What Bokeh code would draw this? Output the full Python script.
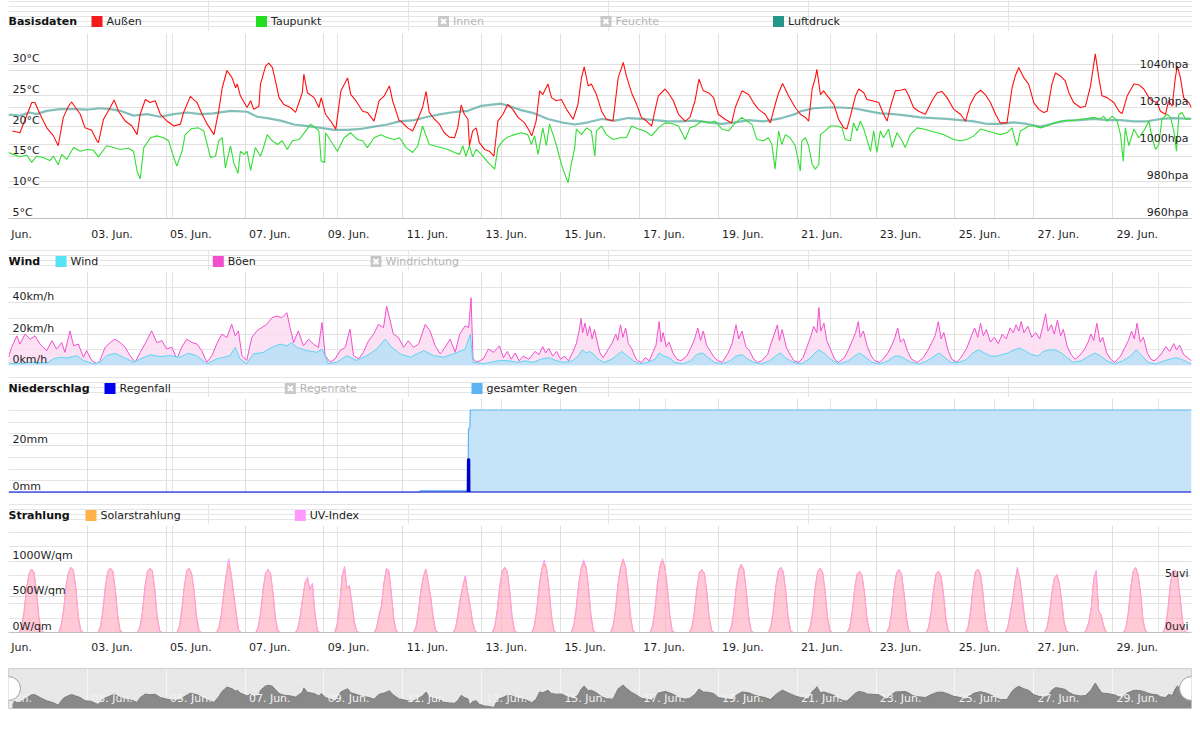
import numpy as np
from bokeh.plotting import figure
from bokeh.layouts import column
from bokeh.models import Range1d, LinearAxis, FixedTicker, Grid
from bokeh.embed import file_html
from bokeh.resources import INLINE
from bokeh.core.properties import value

# ---------------------------------------------------------------- data
# time is given in days since 1 June 00:00
AUSSEN = [(0.10, 19.2), (0.29, 18.9), (0.59, 23.8), (0.67, 23.8), (0.80, 21.9), (0.97, 19.7), (1.14, 18.4), (1.26, 16.8),
          (1.39, 21.4), (1.52, 23.2), (1.60, 23.9), (1.82, 21.9), (1.94, 19.7), (2.11, 19.3), (2.24, 17.6), (2.28, 17.3),
          (2.41, 21.1), (2.58, 23.0), (2.68, 24.2), (2.79, 22.4), (2.96, 20.8), (3.13, 20.0), (3.26, 18.6), (3.34, 21.9),
          (3.47, 24.3), (3.59, 23.8), (3.72, 24.1), (3.85, 21.9), (4.02, 20.8), (4.19, 20.0), (4.36, 20.3), (4.44, 22.2),
          (4.61, 24.8), (4.78, 23.8), (4.91, 21.9), (5.04, 20.3), (5.21, 18.6), (5.33, 22.4), (5.42, 26.2), (5.54, 29.0),
          (5.67, 27.8), (5.76, 26.2), (5.80, 26.8), (5.88, 24.9), (6.05, 23.0), (6.14, 24.1), (6.22, 22.7), (6.35, 23.2),
          (6.39, 26.8), (6.52, 29.7), (6.60, 30.2), (6.69, 29.5), (6.77, 27.3), (6.86, 24.6), (6.98, 23.5), (7.15, 23.0),
          (7.28, 22.2), (7.45, 25.4), (7.49, 28.4), (7.58, 25.4), (7.75, 24.6), (7.87, 23.0), (7.93, 24.6), (8.04, 21.9),
          (8.17, 20.8), (8.30, 19.5), (8.43, 25.7), (8.60, 27.8), (8.68, 25.1), (8.81, 24.1), (8.98, 22.4), (9.10, 22.2),
          (9.27, 20.8), (9.40, 24.1), (9.53, 24.9), (9.66, 26.5), (9.74, 24.1), (9.91, 20.8), (9.95, 20.8), (10.12, 19.7),
          (10.25, 19.2), (10.38, 21.1), (10.50, 23.0), (10.59, 25.6), (10.67, 22.2), (10.80, 21.1), (10.93, 20.3),
          (11.05, 18.9), (11.18, 18.2), (11.31, 18.1), (11.39, 19.7), (11.48, 23.4), (11.56, 21.9), (11.65, 21.1),
          (11.69, 16.8), (11.77, 19.2), (11.86, 19.7), (11.94, 17.3), (12.07, 16.2), (12.20, 15.9), (12.31, 15.1),
          (12.41, 20.8), (12.54, 21.9), (12.66, 23.5), (12.79, 22.7), (12.92, 21.4), (13.09, 20.5), (13.21, 19.2),
          (13.27, 18.4), (13.38, 20.8), (13.47, 25.7), (13.55, 25.1), (13.68, 26.8), (13.77, 24.6), (13.89, 24.1),
          (14.02, 24.3), (14.15, 22.7), (14.32, 21.1), (14.44, 23.5), (14.53, 27.8), (14.60, 29.6), (14.70, 26.5),
          (14.78, 26.8), (14.91, 25.1), (15.04, 22.4), (15.16, 21.1), (15.33, 20.8), (15.46, 27.8), (15.59, 30.3),
          (15.67, 28.1), (15.80, 25.4), (15.93, 23.5), (16.05, 21.4), (16.18, 20.8), (16.31, 20.0), (16.39, 22.4),
          (16.48, 24.9), (16.65, 26.0), (16.73, 25.4), (16.86, 24.1), (16.99, 21.9), (17.16, 20.8), (17.28, 21.4),
          (17.41, 24.1), (17.51, 27.6), (17.62, 25.7), (17.75, 25.4), (17.88, 24.6), (18.00, 21.9), (18.17, 21.1),
          (18.34, 20.5), (18.43, 23.0), (18.60, 25.7), (18.77, 25.1), (18.89, 23.8), (19.02, 22.7), (19.19, 21.9),
          (19.32, 20.5), (19.43, 23.2), (19.53, 25.4), (19.63, 26.9), (19.78, 24.9), (19.95, 23.0), (20.08, 21.9),
          (20.21, 21.4), (20.29, 20.8), (20.38, 26.0), (20.46, 27.8), (20.50, 29.2), (20.59, 25.1), (20.67, 25.7),
          (20.80, 24.6), (20.93, 23.5), (21.05, 21.1), (21.18, 19.7), (21.26, 19.5), (21.35, 21.6), (21.48, 24.9),
          (21.56, 26.0), (21.69, 25.4), (21.77, 24.3), (21.90, 24.1), (22.07, 23.8), (22.19, 21.9), (22.28, 20.8),
          (22.36, 23.0), (22.49, 25.7), (22.62, 25.8), (22.74, 26.0), (22.83, 24.9), (22.95, 23.0), (23.08, 22.4),
          (23.25, 21.9), (23.42, 24.1), (23.55, 25.4), (23.67, 25.6), (23.80, 24.6), (23.97, 22.7), (24.14, 21.9),
          (24.27, 20.8), (24.39, 23.5), (24.52, 25.1), (24.65, 25.8), (24.77, 25.1), (24.90, 23.8), (25.03, 21.9),
          (25.15, 20.5), (25.32, 20.5), (25.45, 26.2), (25.53, 28.1), (25.62, 29.5), (25.75, 27.8), (25.87, 26.8),
          (26.00, 23.8), (26.13, 22.7), (26.25, 22.2), (26.34, 22.4), (26.46, 26.8), (26.55, 28.6), (26.68, 28.1),
          (26.80, 27.3), (26.89, 25.4), (27.01, 23.8), (27.18, 23.0), (27.31, 23.2), (27.44, 26.5), (27.52, 30.0),
          (27.56, 31.7), (27.65, 27.8), (27.73, 24.9), (27.86, 24.6), (28.03, 23.8), (28.16, 22.4), (28.24, 22.0),
          (28.37, 24.9), (28.54, 26.8), (28.66, 26.7), (28.79, 26.0), (28.92, 24.6), (29.00, 24.1), (29.13, 23.8),
          (29.21, 22.4), (29.34, 21.9), (29.42, 24.1), (29.51, 23.2), (29.59, 27.8), (29.64, 29.7), (29.72, 27.8),
          (29.80, 24.6), (29.93, 23.8), (30.00, 23.0)]

TAUPUNKT = [(0.00, 15.7), (0.12, 15.4), (0.29, 15.0), (0.46, 15.3), (0.59, 14.1), (0.71, 15.1), (0.88, 14.9), (1.05, 14.4),
            (1.14, 15.1), (1.26, 13.7), (1.35, 15.4), (1.48, 14.6), (1.65, 16.5), (1.82, 15.9), (1.99, 16.2), (2.15, 16.1),
            (2.28, 15.0), (2.49, 16.8), (2.66, 16.5), (2.83, 16.2), (3.04, 16.4), (3.17, 15.9), (3.26, 12.7), (3.34, 11.4),
            (3.43, 16.5), (3.60, 18.1), (3.76, 18.4), (3.93, 18.1), (4.06, 17.6), (4.19, 14.9), (4.27, 13.5), (4.40, 15.9),
            (4.48, 18.6), (4.65, 19.6), (4.82, 19.7), (4.95, 19.2), (5.04, 17.0), (5.12, 14.9), (5.25, 15.1), (5.33, 17.6),
            (5.42, 18.1), (5.50, 13.2), (5.63, 16.8), (5.71, 14.1), (5.82, 12.3), (5.88, 15.9), (5.97, 15.4), (6.05, 15.9),
            (6.14, 12.8), (6.26, 16.5), (6.39, 15.1), (6.48, 16.8), (6.56, 18.6), (6.69, 17.6), (6.82, 17.0), (6.94, 17.6),
            (7.07, 16.2), (7.20, 17.6), (7.37, 17.8), (7.54, 19.2), (7.66, 20.3), (7.79, 19.7), (7.87, 19.2), (7.93, 14.3),
            (8.02, 14.1), (8.04, 18.9), (8.17, 17.6), (8.34, 15.9), (8.51, 18.1), (8.68, 18.9), (8.85, 17.8), (8.98, 17.6),
            (9.10, 16.5), (9.27, 18.1), (9.44, 18.6), (9.61, 18.1), (9.78, 17.8), (9.91, 18.1), (9.95, 17.8), (10.08, 16.5),
            (10.25, 15.7), (10.38, 16.8), (10.50, 20.0), (10.59, 18.4), (10.67, 17.0), (10.80, 16.8), (10.97, 16.5),
            (11.14, 16.2), (11.31, 15.7), (11.44, 15.4), (11.52, 16.8), (11.60, 15.1), (11.69, 16.8), (11.77, 15.0),
            (11.86, 16.2), (11.99, 15.4), (12.16, 14.1), (12.33, 13.0), (12.41, 16.5), (12.54, 17.6), (12.66, 18.2),
            (12.83, 18.6), (13.00, 18.9), (13.17, 18.6), (13.26, 17.0), (13.34, 18.4), (13.43, 15.4), (13.55, 19.7),
            (13.64, 16.8), (13.72, 20.3), (13.81, 18.6), (13.89, 17.0), (14.02, 13.8), (14.11, 12.2), (14.19, 10.8),
            (14.27, 13.8), (14.36, 16.5), (14.40, 19.5), (14.53, 18.6), (14.66, 19.7), (14.78, 19.2), (14.87, 15.1),
            (14.91, 19.2), (15.04, 20.0), (15.16, 18.6), (15.33, 17.8), (15.50, 18.1), (15.67, 18.1), (15.80, 20.0),
            (15.97, 19.5), (16.14, 19.2), (16.31, 18.4), (16.48, 19.7), (16.65, 20.5), (16.82, 20.4), (16.99, 20.0),
            (17.16, 17.8), (17.28, 19.7), (17.41, 20.0), (17.58, 20.8), (17.75, 20.5), (17.92, 20.8), (18.09, 19.5),
            (18.26, 19.2), (18.43, 20.5), (18.60, 21.4), (18.72, 20.8), (18.85, 20.3), (18.98, 17.8), (19.15, 17.6),
            (19.27, 18.1), (19.36, 17.0), (19.44, 13.0), (19.53, 19.2), (19.61, 17.0), (19.70, 18.6), (19.82, 18.1),
            (19.95, 16.8), (20.08, 12.7), (20.12, 17.6), (20.21, 18.1), (20.29, 16.8), (20.38, 13.8), (20.46, 13.0),
            (20.55, 13.8), (20.59, 18.6), (20.71, 19.2), (20.84, 20.0), (21.01, 20.0), (21.14, 19.7), (21.22, 17.8),
            (21.35, 17.6), (21.43, 20.5), (21.52, 19.2), (21.60, 20.8), (21.69, 19.5), (21.77, 17.8), (21.86, 15.9),
            (21.94, 19.2), (22.02, 15.7), (22.11, 19.2), (22.19, 18.1), (22.32, 19.5), (22.41, 16.5), (22.53, 18.9),
            (22.66, 17.6), (22.74, 16.5), (22.87, 18.6), (23.04, 19.7), (23.21, 19.5), (23.38, 19.2), (23.55, 18.9),
            (23.72, 18.6), (23.97, 17.8), (24.14, 17.6), (24.31, 17.8), (24.48, 18.4), (24.65, 19.5), (24.82, 19.2),
            (24.98, 18.9), (25.15, 18.6), (25.32, 18.9), (25.45, 19.7), (25.53, 17.6), (25.58, 16.8), (25.66, 19.2),
            (25.75, 19.5), (25.87, 20.0), (26.00, 20.0), (26.17, 19.7), (26.34, 20.0), (26.51, 20.5), (26.68, 20.8),
            (26.84, 20.9), (27.01, 20.9), (27.18, 21.1), (27.35, 21.2), (27.52, 21.4), (27.69, 21.1), (27.77, 21.6),
            (27.86, 20.8), (27.99, 21.6), (28.11, 20.9), (28.20, 18.6), (28.27, 14.3), (28.32, 19.7), (28.41, 16.8),
            (28.54, 19.5), (28.66, 18.1), (28.79, 19.2), (28.92, 20.8), (29.00, 18.1), (29.09, 16.2), (29.17, 17.0),
            (29.25, 21.1), (29.38, 21.9), (29.47, 21.4), (29.55, 19.2), (29.62, 15.9), (29.68, 21.9), (29.76, 22.2),
            (29.85, 21.1), (29.97, 21.2)]

LUFTDRUCK = [(0.00, 1016.1), (0.29, 1015.6), (0.54, 1017.3), (0.71, 1016.4), (0.97, 1018.2), (1.31, 1019.1),
             (1.65, 1019.1), (1.99, 1018.8), (2.32, 1019.6), (2.58, 1019.1), (2.83, 1018.2), (3.17, 1015.6),
             (3.51, 1016.4), (3.85, 1015.0), (4.19, 1016.4), (4.53, 1017.3), (4.87, 1016.4), (5.20, 1016.8),
             (5.63, 1018.2), (6.05, 1017.7), (6.31, 1015.0), (6.56, 1014.3), (6.90, 1012.9), (7.24, 1010.8),
             (7.58, 1009.9), (7.92, 1009.0), (8.26, 1007.9), (8.60, 1007.9), (8.93, 1008.4), (9.27, 1009.7),
             (9.61, 1010.8), (9.91, 1012.5), (10.29, 1013.2), (10.63, 1015.0), (10.97, 1016.4), (11.22, 1017.3),
             (11.48, 1017.9), (11.65, 1018.2), (11.99, 1020.9), (12.49, 1022.1), (12.75, 1020.4), (13.00, 1018.6),
             (13.34, 1016.8), (13.68, 1013.8), (14.02, 1012.0), (14.36, 1010.8), (14.70, 1012.0), (15.04, 1013.8),
             (15.38, 1012.9), (15.71, 1014.3), (16.05, 1013.8), (16.39, 1013.2), (16.73, 1012.5), (17.07, 1012.5),
             (17.41, 1012.9), (17.75, 1012.0), (18.09, 1011.1), (18.43, 1012.0), (18.77, 1013.2), (19.14, 1012.5),
             (19.27, 1012.9), (19.61, 1014.3), (19.95, 1016.4), (20.08, 1017.9), (20.42, 1019.6), (20.76, 1020.0),
             (21.09, 1020.0), (21.43, 1019.6), (21.77, 1018.2), (22.11, 1016.8), (22.45, 1016.4), (22.79, 1015.6),
             (23.12, 1014.7), (23.46, 1014.3), (23.80, 1013.8), (24.14, 1013.2), (24.48, 1012.5), (24.82, 1011.1),
             (25.15, 1011.1), (25.49, 1012.0), (25.83, 1011.1), (26.17, 1009.7), (26.51, 1011.5), (26.84, 1012.9),
             (27.18, 1013.2), (27.52, 1013.8), (27.86, 1013.2), (28.20, 1013.2), (28.54, 1012.5), (28.87, 1012.5),
             (29.21, 1013.8), (29.55, 1014.3), (30.00, 1013.8)]

BOEEN = [(0.00, 5.3), (0.08, 11.6), (0.21, 18.9), (0.29, 13.7), (0.42, 20.0), (0.55, 16.8), (0.67, 18.9), (0.80, 13.7),
         (0.97, 9.5), (1.10, 15.8), (1.22, 10.5), (1.35, 14.7), (1.43, 8.4), (1.56, 22.1), (1.65, 12.6), (1.77, 13.7),
         (1.90, 5.3), (1.98, 9.5), (2.11, 3.2), (2.24, 1.1), (2.32, 3.2), (2.45, 11.6), (2.58, 14.7), (2.70, 16.8),
         (2.83, 14.7), (2.96, 11.6), (3.08, 6.3), (3.21, 2.1), (3.34, 8.4), (3.46, 13.7), (3.63, 22.1), (3.76, 14.7),
         (3.89, 15.8), (4.01, 10.5), (4.14, 11.6), (4.27, 4.2), (4.39, 11.6), (4.52, 16.8), (4.65, 14.7), (4.78, 13.7),
         (4.90, 9.5), (5.03, 2.1), (5.16, 6.3), (5.28, 13.7), (5.41, 20.0), (5.54, 17.9), (5.66, 26.3), (5.75, 18.9),
         (5.83, 22.1), (5.92, 6.3), (6.04, 3.2), (6.17, 17.9), (6.30, 22.1), (6.42, 24.2), (6.55, 26.3), (6.68, 30.5),
         (6.80, 31.6), (6.93, 30.5), (7.06, 33.7), (7.14, 24.2), (7.23, 14.7), (7.35, 22.1), (7.48, 12.6), (7.61, 16.8),
         (7.73, 13.7), (7.86, 11.6), (7.95, 27.4), (8.03, 6.3), (8.16, 2.1), (8.28, 4.2), (8.41, 9.5), (8.54, 11.6),
         (8.66, 23.2), (8.75, 6.3), (8.88, 4.2), (9.00, 8.4), (9.13, 15.8), (9.26, 20.0), (9.38, 26.3), (9.51, 24.2),
         (9.59, 37.9), (9.68, 28.4), (9.76, 20.0), (9.89, 17.9), (10.02, 11.6), (10.14, 15.8), (10.27, 11.6),
         (10.40, 13.7), (10.57, 26.3), (10.69, 22.1), (10.82, 12.6), (10.95, 7.4), (11.07, 11.6), (11.20, 16.8),
         (11.33, 8.4), (11.44, 20.0), (11.58, 25.3), (11.67, 24.2), (11.73, 43.2), (11.78, 4.2), (11.88, 2.1),
         (12.04, 4.2), (12.17, 10.5), (12.30, 8.4), (12.45, 12.6),
         (12.55, 5), (12.65, 9), (12.75, 4), (12.85, 8), (12.95, 3), (13.05, 6), (13.20, 4), (13.35, 9), (13.45, 7),
         (13.55, 12), (13.62, 8), (13.70, 11), (13.80, 6), (13.90, 9), (14.00, 4), (14.10, 6), (14.20, 3), (14.30, 8),
         (14.40, 14), (14.47, 22), (14.52, 30), (14.56, 21), (14.62, 27), (14.68, 19), (14.74, 25), (14.80, 17),
         (14.86, 23), (14.93, 15), (15.00, 8), (15.08, 5), (15.20, 10), (15.30, 14), (15.40, 20), (15.45, 16),
         (15.52, 26), (15.58, 18), (15.65, 24), (15.72, 14), (15.80, 11), (15.88, 6), (15.95, 3), (16.05, 2),
         (16.15, 5), (16.25, 3), (16.35, 9), (16.42, 13), (16.50, 28), (16.55, 15), (16.60, 21), (16.68, 12),
         (16.75, 15), (16.85, 8), (16.95, 4), (17.05, 3), (17.20, 6), (17.30, 11), (17.40, 17), (17.48, 24),
         (17.55, 16), (17.62, 22), (17.70, 13), (17.80, 9), (17.90, 5), (18.00, 3), (18.10, 2), (18.25, 8),
         (18.35, 14), (18.45, 26), (18.52, 17), (18.60, 22), (18.70, 12), (18.80, 9), (18.90, 4), (19.00, 2),
         (19.10, 3), (19.25, 7), (19.35, 15), (19.42, 20), (19.50, 26), (19.55, 16), (19.62, 23), (19.72, 12),
         (19.82, 7), (19.92, 3), (20.05, 2), (20.15, 5), (20.25, 12), (20.35, 19), (20.42, 25), (20.50, 21),
         (20.55, 37), (20.60, 22), (20.68, 27), (20.75, 16), (20.85, 10), (20.95, 4), (21.05, 2), (21.20, 5),
         (21.30, 10), (21.40, 16), (21.48, 21), (21.55, 28), (21.60, 18), (21.68, 22), (21.78, 12), (21.88, 6),
         (21.97, 3), (22.10, 2), (22.20, 5), (22.30, 8), (22.40, 13), (22.48, 18), (22.55, 24), (22.62, 15),
         (22.70, 17), (22.80, 9), (22.90, 4), (23.05, 2), (23.20, 5), (23.30, 9), (23.40, 14), (23.50, 19),
         (23.58, 28), (23.65, 17), (23.72, 21), (23.82, 10), (23.92, 4), (24.05, 2), (24.15, 5), (24.30, 11),
         (24.42, 19), (24.50, 24), (24.58, 18), (24.65, 27), (24.72, 19), (24.80, 23), (24.90, 15), (25.00, 18),
         (25.10, 14), (25.20, 20), (25.30, 17), (25.40, 24), (25.48, 21), (25.55, 26), (25.62, 22), (25.68, 28),
         (25.75, 21), (25.85, 25), (25.95, 18), (26.05, 21), (26.15, 17), (26.22, 24), (26.30, 33), (26.36, 22),
         (26.45, 26), (26.52, 20), (26.60, 29), (26.68, 19), (26.75, 23), (26.85, 12), (26.95, 7), (27.05, 4),
         (27.15, 6), (27.28, 10), (27.38, 15), (27.45, 20), (27.52, 16), (27.60, 27), (27.68, 15), (27.75, 18),
         (27.85, 8), (27.95, 4), (28.05, 2), (28.20, 6), (28.30, 11), (28.40, 16), (28.48, 22), (28.55, 17),
         (28.62, 27), (28.70, 15), (28.78, 18), (28.88, 8), (28.97, 4), (29.05, 3), (29.15, 5), (29.25, 8),
         (29.35, 12), (29.45, 9), (29.55, 14), (29.62, 10), (29.70, 13), (29.80, 7), (29.90, 5), (30.00, 3)]

WIND = [(0.00, 1.5), (0.21, 1.1), (0.63, 2.1), (0.97, 1.5), (1.14, 4.2), (1.31, 5.3), (1.48, 4.8), (1.73, 6.3),
        (1.90, 3.2), (2.15, 1.1), (2.32, 2.1), (2.49, 6.3), (2.70, 7.8), (2.91, 5.3), (3.17, 2.1), (3.34, 4.2),
        (3.59, 6.9), (3.84, 5.7), (4.10, 6.3), (4.35, 5.3), (4.56, 7.8), (4.77, 6.3), (5.03, 1.1), (5.28, 4.2),
        (5.62, 6.3), (5.75, 11.6), (5.87, 4.2), (6.04, 1.1), (6.21, 7.4), (6.47, 8.4), (6.68, 11.6), (6.89, 13.7),
        (7.06, 12.6), (7.19, 14.7), (7.31, 11.6), (7.57, 9.5), (7.82, 8.4), (7.95, 10.5), (8.11, 1.1), (8.33, 2.1),
        (8.58, 6.3), (8.83, 3.2), (9.09, 6.3), (9.34, 10.5), (9.55, 16.8), (9.72, 11.6), (9.93, 7.4), (10.19, 5.3),
        (10.53, 9.5), (10.78, 6.3), (11.03, 5.3), (11.29, 7.4), (11.58, 10.5), (11.71, 20.0), (11.78, 2.1),
        (12.05, 1.1), (12.45, 3.2), (12.70, 3), (12.90, 2), (13.10, 3), (13.30, 2), (13.50, 4), (13.70, 5),
        (13.90, 3), (14.10, 2), (14.30, 3), (14.45, 6), (14.55, 10), (14.65, 8), (14.75, 9), (14.85, 7),
        (14.95, 4), (15.10, 2), (15.30, 4), (15.45, 7), (15.55, 9), (15.70, 6), (15.85, 3), (16.00, 1),
        (16.20, 2), (16.40, 4), (16.50, 8), (16.62, 6), (16.75, 5), (16.90, 2), (17.10, 1), (17.30, 3),
        (17.45, 7), (17.60, 8), (17.75, 5), (17.90, 2), (18.10, 1), (18.30, 3), (18.45, 6), (18.60, 7),
        (18.75, 4), (18.90, 2), (19.10, 1), (19.30, 3), (19.45, 6), (19.58, 8), (19.70, 5), (19.90, 2),
        (20.10, 1), (20.30, 4), (20.45, 8), (20.55, 10), (20.68, 8), (20.85, 4), (21.05, 1), (21.30, 3),
        (21.45, 6), (21.58, 8), (21.70, 6), (21.90, 2), (22.10, 1), (22.30, 3), (22.48, 6), (22.60, 6),
        (22.75, 4), (22.90, 2), (23.10, 1), (23.30, 3), (23.48, 6), (23.60, 8), (23.75, 5), (23.90, 2),
        (24.10, 2), (24.30, 4), (24.45, 8), (24.60, 10), (24.75, 8), (24.90, 6), (25.05, 6), (25.20, 7),
        (25.35, 8), (25.50, 10), (25.65, 11), (25.80, 9), (25.95, 7), (26.10, 6), (26.25, 9), (26.40, 10),
        (26.55, 10), (26.70, 8), (26.85, 5), (27.00, 2), (27.20, 3), (27.40, 6), (27.55, 8), (27.70, 6),
        (27.85, 3), (28.05, 1), (28.25, 3), (28.45, 6), (28.60, 10), (28.75, 6), (28.90, 2), (29.10, 1),
        (29.30, 3), (29.45, 4), (29.60, 5), (29.75, 4), (29.90, 2), (30.00, 1)]

REGEN_GESAMT = [(0.00, 0.0), (10.43, 0.0), (10.44, 0.7), (11.655, 0.7), (11.665, 27.0), (11.70, 27.6),
                (11.71, 35.1), (30.00, 35.1)]
REGENFALL = [(0.00, 0.0), (11.645, 0.0), (11.65, 14.1), (11.685, 14.1), (11.69, 0.0), (30.00, 0.0)]

# hours of the day at which radiation / UV were read
SUN_HOURS = [6.5, 8, 9.5, 11, 12.5, 14, 15.5, 17, 18.5, 20, 21.5]
SOLAR = [
    [0, 90, 310, 630, 820, 890, 850, 600, 230, 30, 0],
    [0, 100, 320, 650, 840, 910, 875, 630, 230, 35, 0],
    [0, 90, 330, 660, 860, 905, 860, 610, 240, 30, 0],
    [0, 80, 300, 640, 850, 900, 870, 620, 230, 30, 0],
    [0, 90, 330, 650, 870, 895, 820, 580, 220, 30, 0],
    [0, 70, 250, 560, 800, 950, 820, 560, 300, 40, 0],
    [0, 80, 300, 620, 840, 880, 820, 560, 200, 20, 0],
    [0, 50, 230, 480, 700, 740, 600, 680, 280, 30, 0],
    [0, 120, 380, 780, 900, 620, 650, 420, 150, 20, 0],
    [0, 70, 250, 380, 700, 890, 860, 560, 200, 20, 0],
    [0, 80, 300, 600, 780, 890, 700, 500, 220, 30, 0],
    [0, 60, 250, 480, 650, 790, 560, 380, 150, 20, 0],
    [0, 100, 330, 660, 850, 910, 860, 600, 230, 30, 0],
    [0, 90, 320, 650, 880, 960, 900, 620, 240, 30, 0],
    [0, 100, 340, 680, 900, 980, 920, 640, 250, 30, 0],
    [0, 100, 340, 690, 910, 1000, 930, 650, 250, 35, 0],
    [0, 100, 340, 690, 920, 1000, 920, 640, 250, 30, 0],
    [0, 90, 310, 630, 840, 880, 830, 580, 220, 30, 0],
    [0, 90, 320, 650, 880, 940, 880, 600, 230, 30, 0],
    [0, 90, 320, 650, 860, 910, 860, 600, 230, 30, 0],
    [0, 90, 310, 640, 860, 900, 850, 590, 220, 30, 0],
    [0, 80, 300, 620, 820, 860, 800, 560, 210, 25, 0],
    [0, 80, 300, 620, 840, 880, 820, 570, 220, 25, 0],
    [0, 80, 290, 600, 820, 860, 800, 560, 210, 25, 0],
    [0, 80, 300, 630, 850, 890, 830, 580, 220, 25, 0],
    [0, 60, 250, 450, 700, 880, 750, 500, 200, 25, 0],
    [0, 70, 260, 550, 760, 810, 700, 450, 150, 20, 0],
    [0, 40, 150, 350, 750, 850, 300, 250, 100, 10, 0],
    [0, 60, 280, 620, 860, 910, 820, 560, 180, 20, 0],
    [0, 80, 300, 650, 860, 870, 800, 520, 180, 20, 0],
]
UV = [
    [0, .4, 1.8, 4.0, 5.5, 5.9, 5.6, 3.8, 1.2, .1, 0],
    [0, .5, 1.9, 4.2, 5.6, 6.1, 5.8, 4.0, 1.3, .1, 0],
    [0, .4, 2.0, 4.3, 5.7, 6.0, 5.7, 3.9, 1.3, .1, 0],
    [0, .4, 1.8, 4.1, 5.6, 6.0, 5.8, 4.0, 1.3, .1, 0],
    [0, .4, 2.0, 4.2, 5.8, 6.0, 5.5, 3.7, 1.2, .1, 0],
    [0, .3, 1.5, 3.6, 5.4, 6.9, 5.5, 3.6, 1.7, .2, 0],
    [0, .4, 1.8, 4.0, 5.6, 5.9, 5.5, 3.6, 1.1, .1, 0],
    [0, .3, 1.4, 3.1, 4.7, 5.2, 4.0, 4.6, 1.6, .1, 0],
    [0, .6, 2.3, 5.2, 6.2, 4.2, 4.4, 2.7, .8, .1, 0],
    [0, .3, 1.5, 2.5, 4.6, 6.0, 5.8, 3.6, 1.1, .1, 0],
    [0, .4, 1.8, 3.9, 5.2, 5.9, 4.7, 3.2, 1.2, .1, 0],
    [0, .3, 1.5, 3.1, 4.3, 5.3, 3.7, 2.4, .8, .1, 0],
    [0, .5, 2.0, 4.3, 5.7, 6.1, 5.7, 3.9, 1.3, .1, 0],
    [0, .5, 2.0, 4.3, 5.9, 6.8, 6.0, 4.0, 1.3, .1, 0],
    [0, .5, 2.1, 4.5, 6.0, 6.8, 6.1, 4.2, 1.4, .1, 0],
    [0, .5, 2.1, 4.6, 6.1, 6.9, 6.2, 4.2, 1.4, .1, 0],
    [0, .5, 2.1, 4.6, 6.2, 6.9, 6.1, 4.1, 1.4, .1, 0],
    [0, .4, 1.9, 4.1, 5.6, 5.9, 5.5, 3.7, 1.2, .1, 0],
    [0, .4, 2.0, 4.3, 5.9, 6.4, 5.9, 3.9, 1.3, .1, 0],
    [0, .4, 2.0, 4.3, 5.7, 6.1, 5.7, 3.9, 1.3, .1, 0],
    [0, .4, 1.9, 4.2, 5.7, 6.0, 5.6, 3.8, 1.2, .1, 0],
    [0, .4, 1.8, 4.1, 5.5, 5.7, 5.3, 3.6, 1.1, .1, 0],
    [0, .4, 1.8, 4.1, 5.6, 5.9, 5.4, 3.7, 1.2, .1, 0],
    [0, .4, 1.8, 4.0, 5.5, 5.7, 5.3, 3.6, 1.1, .1, 0],
    [0, .4, 1.8, 4.2, 5.7, 5.9, 5.5, 3.7, 1.2, .1, 0],
    [0, .3, 1.5, 3.0, 4.7, 6.1, 5.0, 3.2, 1.1, .1, 0],
    [0, .3, 1.6, 3.6, 5.1, 5.4, 4.6, 2.9, .8, .1, 0],
    [0, .2, .9, 2.3, 5.0, 5.8, 2.0, 1.6, .5, 0, 0],
    [0, .3, 1.7, 4.1, 5.7, 6.1, 5.4, 3.6, 1.0, .1, 0],
    [0, .4, 1.8, 4.3, 5.7, 5.8, 5.3, 3.3, 1.0, .1, 0],
]

TEMP_TICKS = [5, 10, 15, 20, 25, 30]
TEMP_LABELS = ["5°C", "10°C", "15°C", "20°C", "25°C", "30°C"]
HPA_TICKS = [960, 980, 1000, 1020, 1040]
HPA_LABELS = ["960hpa", "980hpa", "1000hpa", "1020hpa", "1040hpa"]
WIND_TICKS = [0, 20, 40]
WIND_LABELS = ["0km/h", "20km/h", "40km/h"]
RAIN_TICKS = [0, 20]
RAIN_LABELS = ["0mm", "20mm"]
SOLAR_TICKS = [0, 500, 1000]
SOLAR_LABELS = ["0W/qm", "500W/qm", "1000W/qm"]
UV_TICKS = [0, 5]
UV_LABELS = ["0uvi", "5uvi"]
DATE_DAYS = [2, 4, 6, 8, 10, 12, 14, 16, 18, 20, 22, 24, 26, 28]
DATE_LABELS = ["03. Jun.", "05. Jun.", "07. Jun.", "09. Jun.", "11. Jun.", "13. Jun.", "15. Jun.",
               "17. Jun.", "19. Jun.", "21. Jun.", "23. Jun.", "25. Jun.", "27. Jun.", "29. Jun."]
MONTH_LABEL = "Jun."

# ---------------------------------------------------------------- helpers
FONT = "DejaVu Sans"
PAD = 8           # page margin that the reference has
W = 1184          # width right of the margin
FW = 1183         # frame width
HOURS = 720       # 30 days in hours
TXT = "#1e1e1e"
GRID = "#dfdfdf"


def xy(pairs):
    d = np.array([p[0] for p in pairs]) * 24.0
    v = np.array([p[1] for p in pairs], dtype=float)
    return d, v


def legend_row(title, items, h=21, cy_top=12):
    p = figure(frame_width=W, frame_height=h, x_range=Range1d(0, W), y_range=Range1d(0, h),
               toolbar_location=None, output_backend="svg", x_axis_location=None, y_axis_location=None,
               min_border=0, min_border_left=PAD, outline_line_color=None)
    cy = h - cy_top
    p.text(x=[0], y=[cy], text=[title], text_font=value(FONT), text_font_size="11px",
           text_font_style="bold", text_color="#111111", text_baseline="middle")
    for x0, label, color in items:
        if color is not None:
            p.rect(x=[x0 + 5.5], y=[cy], width=11, height=11, fill_color=color, line_color=None)
            tc = "#222222"
        else:
            p.rect(x=[x0 + 5.5], y=[cy], width=11, height=11, fill_color="#c8c8c8", line_color=None)
            p.scatter(x=[x0 + 5.5], y=[cy], marker="x", size=7, line_color="white", line_width=2)
            tc = "#b4b4b4"
        p.text(x=[x0 + 15], y=[cy], text=[label], text_font=value(FONT), text_font_size="11px",
               text_color=tc, text_baseline="middle")
    return p


def panel(frame_h, top, bottom, lo, hi):
    p = figure(frame_width=FW, frame_height=frame_h, x_range=Range1d(0, HOURS), y_range=Range1d(lo, hi),
               toolbar_location=None, output_backend="svg", x_axis_location=None, y_axis_location=None,
               min_border_left=PAD, min_border_right=1, min_border_top=top, min_border_bottom=bottom,
               outline_line_color=None)
    p.add_layout(Grid(dimension=0, ticker=FixedTicker(ticks=[d * 24 for d in DATE_DAYS] + [HOURS]),
                      grid_line_color=GRID))
    return p


def ygrid(p, ticks, range_name="default", color=GRID):
    p.add_layout(Grid(dimension=1, ticker=FixedTicker(ticks=ticks), grid_line_color=color,
                      y_range_name=range_name))


def ylabels(p, ticks, labels, side="left", range_name="default"):
    if side == "left":
        p.text(x=[0] * len(ticks), y=ticks, text=labels, x_offset=4, y_offset=-6, text_align="left",
               text_baseline="middle", text_font=value(FONT), text_font_size="11px", text_color=TXT,
               y_range_name=range_name)
    else:
        p.text(x=[HOURS] * len(ticks), y=ticks, text=labels, x_offset=-3, y_offset=-6, text_align="right",
               text_baseline="middle", text_font=value(FONT), text_font_size="11px", text_color=TXT,
               y_range_name=range_name)


def date_axis(p, standoff):
    ticks = [8] + [d * 24 + 15 for d in DATE_DAYS]
    ax = LinearAxis(ticker=FixedTicker(ticks=ticks),
                    major_label_overrides=dict(zip(ticks, [MONTH_LABEL] + DATE_LABELS)),
                    major_tick_in=0, major_tick_out=0, minor_tick_line_color=None,
                    major_label_standoff=standoff, axis_line_color="#c0c0c0",
                    major_label_text_font=FONT, major_label_text_font_size="11px",
                    major_label_text_color=TXT)
    p.add_layout(ax, "below")


# ---------------------------------------------------------------- panel 1 : Basisdaten
leg1 = legend_row("Basisdaten", [(83, "Außen", "#f21c1c"), (247.5, "Taupunkt", "#22dd22"),
                                 (429.5, "Innen", None), (592, "Feuchte", None),
                                 (764.5, "Luftdruck", "#26958a")], h=23 + PAD, cy_top=13 + PAD)
p1 = panel(185, 2, 31, 5, 35)
p1.extra_y_ranges = {"hpa": Range1d(960, 1060)}
ygrid(p1, [5, 10, 15, 20, 25, 30, 35])
ygrid(p1, [960, 980, 1000, 1020, 1040, 1060], "hpa")
x, v = xy(LUFTDRUCK)
p1.line(x, v, y_range_name="hpa", line_color="#5aaaa3", line_alpha=0.75, line_width=2.2)
x, v = xy(TAUPUNKT)
p1.line(x, v, line_color="#33dd33", line_width=1.1)
x, v = xy(AUSSEN)
p1.line(x, v, line_color="#ff1010", line_width=1.1)
ylabels(p1, TEMP_TICKS, TEMP_LABELS)
ylabels(p1, HPA_TICKS, HPA_LABELS, side="right", range_name="hpa")
date_axis(p1, 9)

# ---------------------------------------------------------------- panel 2 : Wind
leg2 = legend_row("Wind", [(47, "Wind", "#55e3f5"), (204.3, "Böen", "#f050cc"), (362, "Windrichtung", None)])
p2 = panel(94, 1, 11, 0, 60)
ygrid(p2, [20, 40, 60])
ygrid(p2, [0], color="#a8a8a8")
x, v = xy(BOEEN)
p2.varea(x=x, y1=0, y2=v, fill_color="#fbdcf3", fill_alpha=0.85)
p2.line(x, v, line_color="#f050cc", line_width=1)
x, v = xy(WIND)
p2.varea(x=x, y1=0, y2=v, fill_color="#c0e0f5", fill_alpha=0.95)
p2.line(x, v, line_color="#5bd6f0", line_width=1)
ylabels(p2, WIND_TICKS, WIND_LABELS)

# ---------------------------------------------------------------- panel 3 : Niederschlag
leg3 = legend_row("Niederschlag", [(96, "Regenfall", "#0000ee"), (276.3, "Regenrate", None),
                                   (463, "gesamter Regen", "#5cb3f3")])
p3 = panel(94, 1, 11, 0, 40)
ygrid(p3, [0, 20, 40])
x, v = xy(REGEN_GESAMT)
p3.varea(x=x, y1=0, y2=v, fill_color="#c6e4f8")
p3.line(x, v, line_color="#5cb3f3", line_width=1.2)
x, v = xy(REGENFALL)
p3.line(x, v, line_color="#0000cc", line_width=2)
ylabels(p3, RAIN_TICKS, RAIN_LABELS)

# ---------------------------------------------------------------- panel 4 : Strahlung
leg4 = legend_row("Strahlung", [(77, "Solarstrahlung", "#ffb347"), (286.3, "UV-Index", "#ff99ff")])
p4 = panel(107, 1, 34, 0, 1500)
p4.extra_y_ranges = {"uv": Range1d(0, 10)}
ygrid(p4, [500, 1000, 1500])
sx = np.concatenate([np.array(SUN_HOURS) + 24 * i for i in range(len(SOLAR))])
sv = np.concatenate([np.array(s, dtype=float) for s in SOLAR])
uv = np.concatenate([np.array(u, dtype=float) for u in UV])
p4.varea(x=sx, y1=0, y2=sv, fill_color="#ffb347", fill_alpha=0.35)
p4.varea(x=sx, y1=0, y2=uv, fill_color="#ff99ff", fill_alpha=0.35, y_range_name="uv")
p4.line(sx, sv, line_color="#ffb347", line_width=1)
p4.line(sx, uv, line_color="#ff99ff", line_width=1, y_range_name="uv")
ylabels(p4, SOLAR_TICKS, SOLAR_LABELS)
ylabels(p4, UV_TICKS, UV_LABELS, side="right", range_name="uv")
date_axis(p4, 8)

# ---------------------------------------------------------------- navigator
NLO, NHI = 14.5, 41.5
nav = figure(frame_width=FW, frame_height=40, x_range=Range1d(0, HOURS), y_range=Range1d(NLO, NHI),
             toolbar_location=None, output_backend="svg", x_axis_location=None, y_axis_location=None,
             min_border_left=PAD, min_border_right=1, min_border_top=2, min_border_bottom=4,
             outline_line_color="#cfcfcf", background_fill_color="#e8e8e8")
nav.add_layout(Grid(dimension=0, ticker=FixedTicker(ticks=[d * 24 for d in DATE_DAYS]),
                    grid_line_color="#f6f6f6"))
x, v = xy(AUSSEN)
nav.varea(x=x, y1=NLO, y2=v, fill_color="#898989")
nav.line(x, v, line_color="#7c7c7c", line_width=1)
ly = NLO + 10 * (NHI - NLO) / 40
nav.text(x=[8] + [d * 24 + 15 for d in DATE_DAYS], y=[ly] * (len(DATE_DAYS) + 1),
         text=[MONTH_LABEL] + DATE_LABELS, text_align="center", text_baseline="middle",
         text_font=value(FONT), text_font_size="11px", text_color="#f2f2f2")
hy = NLO + 20 * (NHI - NLO) / 40
nav.circle(x=[0, HOURS], y=[hy, hy], radius=12, radius_units="screen", fill_color="white",
           line_color="#a0a0a0", line_width=1)

page = column(leg1, p1, leg2, p2, leg3, p3, leg4, p4, nav, spacing=0)
open("out.html", "w").write(file_html(page, INLINE))
